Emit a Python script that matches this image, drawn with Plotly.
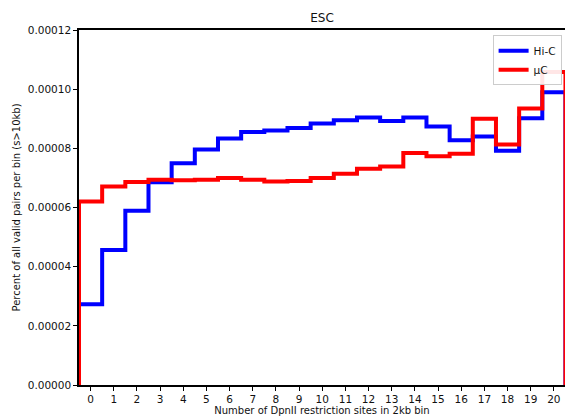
import plotly.graph_objects as go

# Number of DpnII restriction sites in 2kb bin (bin centres)
sites = list(range(0, 21))

# Percent of all valid pairs per bin (s>10kb)
hic = [0.0000273, 0.0000456, 0.0000589, 0.0000685, 0.0000750, 0.0000796, 0.0000833,
       0.0000855, 0.0000860, 0.0000869, 0.0000884, 0.0000895, 0.0000904, 0.0000892,
       0.0000904, 0.0000874, 0.0000827, 0.0000840, 0.0000792, 0.0000902, 0.0000990]
muc = [0.0000620, 0.0000671, 0.0000686, 0.0000694, 0.0000692, 0.0000694, 0.0000700,
       0.0000694, 0.0000688, 0.0000690, 0.0000700, 0.0000714, 0.0000731, 0.0000739,
       0.0000784, 0.0000773, 0.0000782, 0.0000900, 0.0000813, 0.0000935, 0.0001058]

y_ticks = [0, 0.00002, 0.00004, 0.00006, 0.00008, 0.00010, 0.00012]


def step_xy(centers, values):
    # matplotlib-like 'step' histogram outline: starts and ends at zero
    xs = [centers[0] - 0.5] + [c - 0.5 for c in centers] + [centers[-1] + 0.5]
    ys = [0] + list(values) + [0]
    return xs, ys


fig = go.Figure()
for name, vals, col in [("Hi-C", hic, "#0000ff"), ("\u03bcC", muc, "#ff0000")]:
    xs, ys = step_xy(sites, vals)
    fig.add_trace(go.Scatter(x=xs, y=ys, mode="lines", name=name,
                             line=dict(color=col, width=4, shape="hv")))

font = "DejaVu Sans, sans-serif"
fig.update_layout(
    width=565, height=419,
    margin=dict(l=79, r=0, t=30, b=34),
    paper_bgcolor="white", plot_bgcolor="white",
    font=dict(family=font, size=10.5, color="#111111"),
    title=dict(text="ESC", x=0.5, xanchor="center", y=1 - 18 / 419, yanchor="middle",
               xref="paper", font=dict(size=12, color="#111111")),
    showlegend=True,
    legend=dict(x=0.993, xanchor="right", y=0.985, yanchor="top",
                bgcolor="rgba(255,255,255,0.9)", bordercolor="#cccccc", borderwidth=1,
                font=dict(size=10.5), tracegroupgap=0, itemwidth=30),
)
fig.update_xaxes(
    range=[-0.5, 20.48], tickmode="array", tickvals=sites, ticktext=[str(s) for s in sites],
    showgrid=False, zeroline=False, showline=True, linecolor="black", linewidth=1.5,
    mirror=True, ticks="outside", ticklen=4, tickwidth=1.2, tickcolor="black",
    title=dict(text="Number of DpnII restriction sites in 2kb bin", standoff=3,
               font=dict(size=10)),
)
fig.update_yaxes(
    range=[0, 0.00012], tickmode="array", tickvals=y_ticks,
    ticktext=["%.5f" % v for v in y_ticks],
    showgrid=False, zeroline=False, showline=True, linecolor="black", linewidth=1.5,
    ticks="outside", ticklen=4, tickwidth=1.2, tickcolor="black",
    title=dict(text="Percent of all valid pairs per bin (s>10kb)", standoff=5,
               font=dict(size=10)),
)

fig.write_html("out.html")
